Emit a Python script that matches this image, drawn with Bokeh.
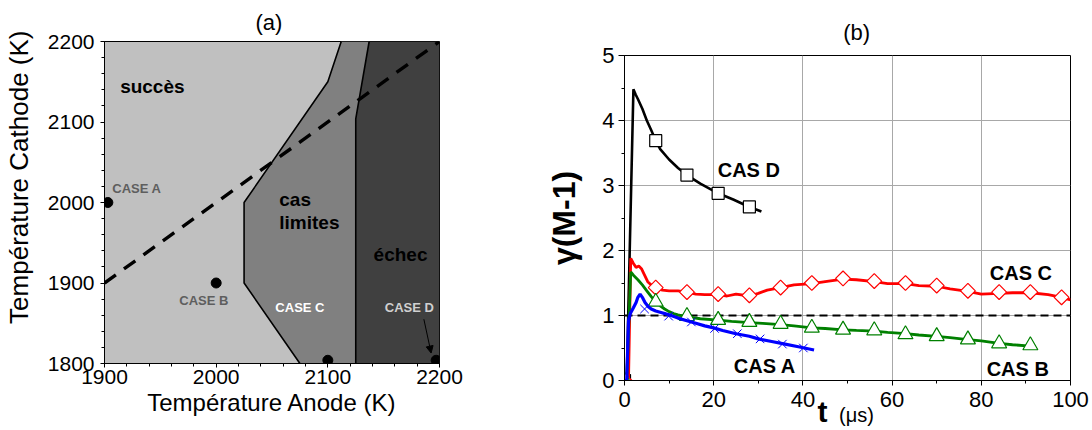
from bokeh.plotting import figure
from bokeh.layouts import row, column
from bokeh.models import Range1d, FixedTicker, Label, Arrow, NormalHead, LinearAxis, Spacer
from bokeh.embed import file_html
from bokeh.resources import INLINE

FONT = "Liberation Sans"
NB = "\u00a0"

# ---------------- panel (a) data ----------------
anode_ticks = [1900, 2000, 2100, 2200]
anode_minor = list(range(1900, 2201, 20))
cathode_ticks = [1800, 1900, 2000, 2100, 2200]
cathode_minor = list(range(1800, 2201, 20))

limite_anode = [2075, 2025, 2025, 2100, 2112, 2137, 2125, 2125]
limite_cathode = [1800, 1900, 2000, 2150, 2200, 2200, 2104, 1800]
echec_anode = [2125, 2125, 2137, 2200, 2200]
echec_cathode = [1800, 2104, 2200, 2200, 1800]
diag_anode = [1900, 2200]
diag_cathode = [1900, 2200]
case_anode = [1903, 2000, 2100, 2197]
case_cathode = [2000, 1900, 1804, 1804]
case_names = ["CASE A", "CASE B", "CASE C", "CASE D"]
region_names = ["succès", "cas", "limites", "échec"]

# ---------------- panel (b) data ----------------
t_ticks = [0, 20, 40, 60, 80, 100]
t_minor = list(range(0, 101, 10))
g_ticks = [0, 1, 2, 3, 4, 5]
g_minor = [0, 0.5, 1, 1.5, 2, 2.5, 3, 3.5, 4, 4.5, 5]

t_D = [0.5, 2.0, 2.5, 3.0, 4.0, 5.0, 6.0, 7.0, 8.0, 10.0, 12.0, 14.0, 17.0, 21.0, 24.5, 28.0, 30.7]
g_D = [0.0, 4.48, 4.40, 4.33, 4.18, 4.00, 3.85, 3.69, 3.56, 3.40, 3.27, 3.16, 3.03, 2.88, 2.78, 2.67, 2.60]
mark_t_D = [0, 7, 14, 21, 28]
mark_g_D = [0, 3.69, 3.16, 2.88, 2.67]

t_C = [0.9, 1.4, 2.0, 2.6, 3.2, 3.8, 4.5, 5.2, 6.0, 7.0, 8.5, 10, 12, 14, 16, 18, 21, 23, 25, 28, 30, 32,
       35, 38, 42, 45, 49, 52, 56, 59, 63, 66, 70, 73, 77, 80, 84, 87, 91, 95, 98, 100]
g_C = [0.0, 1.88, 1.80, 1.74, 1.76, 1.72, 1.62, 1.52, 1.47, 1.43, 1.39, 1.38, 1.38, 1.36, 1.33, 1.32, 1.32, 1.30,
       1.33, 1.30, 1.34, 1.39, 1.43, 1.47, 1.49, 1.52, 1.56, 1.55, 1.52, 1.49, 1.49, 1.46, 1.45, 1.41, 1.37, 1.33,
       1.34, 1.35, 1.35, 1.32, 1.28, 1.24]
mark_t_C = [0, 7, 14, 21, 28, 35, 42, 49, 56, 63, 70, 77, 84, 91, 98]
mark_g_C = [0, 1.43, 1.36, 1.33, 1.31, 1.43, 1.50, 1.57, 1.53, 1.50, 1.46, 1.38, 1.36, 1.36, 1.28]

t_B = [0.5, 1.4, 2.0, 3.0, 4.0, 5.0, 6.0, 7.0, 8.0, 9.0, 10, 11, 12, 14, 17, 21, 24, 28, 31, 35, 38, 42, 45,
       49, 52, 56, 59, 63, 66, 70, 73, 77, 80, 84, 87, 91, 92]
g_B = [0.0, 1.67, 1.62, 1.55, 1.47, 1.38, 1.29, 1.21, 1.15, 1.10, 1.06, 1.03, 1.01, 0.98, 0.95, 0.93, 0.91,
       0.89, 0.88, 0.86, 0.84, 0.81, 0.80, 0.78, 0.77, 0.76, 0.74, 0.72, 0.70, 0.68, 0.66, 0.63, 0.61, 0.57,
       0.55, 0.53, 0.52]
mark_t_B = [0, 7, 14, 21, 28, 35, 42, 49, 56, 63, 70, 77, 84, 91]
mark_g_B = [0, 1.21, 0.99, 0.93, 0.90, 0.87, 0.81, 0.78, 0.77, 0.71, 0.68, 0.63, 0.57, 0.54]

t_A = [0.5, 0.9, 1.3, 2.0, 2.6, 3.0, 3.5, 4.0, 4.6, 5.3, 6.0, 7.0, 8.0, 10, 12, 14, 16, 18, 20, 22, 25, 28,
       30, 33, 36, 39, 42.5]
g_A = [0.0, 0.92, 1.03, 1.12, 1.20, 1.28, 1.33, 1.28, 1.20, 1.14, 1.10, 1.07, 1.05, 1.01, 0.96, 0.92, 0.88,
       0.84, 0.81, 0.77, 0.72, 0.68, 0.64, 0.60, 0.56, 0.52, 0.47]
mark_t_A = [0, 4.5, 9.9, 15.0, 20.2, 25.3, 30.4, 35.4, 40.1]
mark_g_A = [0, 1.10, 0.99, 0.90, 0.80, 0.72, 0.64, 0.56, 0.50]

seuil_t = [0, 100]
seuil_g = [1, 1]
cas_names = ["CAS A", "CAS B", "CAS C", "CAS D"]


def style_axis(ax, ticks, minor, size, tick_out, minor_out, standoff):
    ax.ticker = FixedTicker(ticks=ticks, minor_ticks=minor)
    ax.axis_line_color = "black"
    ax.axis_line_width = 1
    ax.major_tick_line_color = "black"
    ax.minor_tick_line_color = "black"
    ax.major_tick_in = 0
    ax.major_tick_out = tick_out
    ax.minor_tick_in = 0
    ax.minor_tick_out = minor_out
    ax.major_label_text_font = FONT
    ax.major_label_text_font_size = size
    ax.major_label_text_color = "black"
    ax.major_label_standoff = standoff


def axis_title(ax, text, size, standoff, bold=False):
    ax.axis_label = text
    ax.axis_label_text_font = FONT
    ax.axis_label_text_font_size = size
    ax.axis_label_text_font_style = "bold" if bold else "normal"
    ax.axis_label_text_color = "black"
    ax.axis_label_standoff = standoff


def panel_title(p, text, standoff):
    p.title.text = text
    p.title.align = "center"
    p.title.text_font = FONT
    p.title.text_font_size = "22px"
    p.title.text_font_style = "normal"
    p.title.text_color = "black"
    p.title.standoff = standoff


def lab(p, x, y, text, size, color="black", bold=False):
    p.add_layout(Label(x=x, y=y, text=text, text_font=FONT, text_font_size=size,
                       text_color=color, text_font_style="bold" if bold else "normal",
                       text_align="left", text_baseline="alphabetic"))


# ======================= panel (a) =======================
pa = figure(width=469, height=430, frame_width=335, frame_height=322,
            min_border_left=104, min_border_right=30, min_border_top=41, min_border_bottom=67,
            x_range=Range1d(1900, 2200), y_range=Range1d(1800, 2200),
            output_backend="svg", toolbar_location=None)
pa.grid.visible = False
pa.background_fill_color = "#c0c0c0"
pa.border_fill_color = "white"
pa.outline_line_color = "black"
style_axis(pa.xaxis[0], anode_ticks, anode_minor, "21px", 4, 3, 2)
style_axis(pa.yaxis[0], cathode_ticks, cathode_minor, "21px", 4, 3, 6)
axis_title(pa.xaxis[0], "Température Anode (K)", "24px", 2)
axis_title(pa.yaxis[0], NB * 7 + "Température Cathode (K)", "26px", 11)
panel_title(pa, "(a)" + NB, 14)

pa.patch(limite_anode, limite_cathode, fill_color="#808080", line_color=None)
pa.patch(echec_anode, echec_cathode, fill_color="#404040", line_color=None)
pa.line(limite_anode[:5], limite_cathode[:5], line_color="black", line_width=1.6)
pa.line(echec_anode[:3], echec_cathode[:3], line_color="black", line_width=1.6)
pa.line(diag_anode, diag_cathode, line_color="black", line_width=3.4, line_dash="14 10")
pa.scatter(case_anode, case_cathode, size=10, marker="circle", fill_color="black", line_color="black")

lab(pa, 1914, 2144, region_names[0], "19px", bold=True)
lab(pa, 2056.5, 2004, region_names[1], "19px", bold=True)
lab(pa, 2056.5, 1975, region_names[2], "19px", bold=True)
lab(pa, 2141, 1935, region_names[3], "19px", bold=True)
lab(pa, 1907, 2018, case_names[0], "13px", color="#5e5e5e", bold=True)
lab(pa, 1967, 1878, case_names[1], "13px", color="#5e5e5e", bold=True)
lab(pa, 2053, 1869, case_names[2], "13px", color="white", bold=True)
lab(pa, 2151, 1869, case_names[3], "13px", color="#d0d0d0", bold=True)
pa.add_layout(Arrow(x_start=2186, y_start=1855, x_end=2192.5, y_end=1813,
                    line_color="black", line_width=1,
                    end=NormalHead(size=7, fill_color="black", line_color="black")))

# ======================= panel (b) =======================
pb = figure(width=623, height=425, frame_width=446, frame_height=325,
            min_border_left=155, min_border_right=22, min_border_top=50, min_border_bottom=50,
            x_range=Range1d(0, 100), y_range=Range1d(0, 5),
            output_backend="svg", toolbar_location=None)
pb.background_fill_color = "white"
pb.border_fill_color = "white"
pb.outline_line_color = "black"
style_axis(pb.xaxis[0], t_ticks, t_minor, "22px", 5, 3, 6)
style_axis(pb.yaxis[0], g_ticks, g_minor, "22px", 6, 3, 4)
pb.xgrid.grid_line_color = "#a8a8a8"
pb.ygrid.grid_line_color = "#a8a8a8"
axis_title(pb.xaxis[0], "t" + NB * 6, "30px", -15, bold=True)
axis_title(pb.yaxis[0], "γ(M-1)", "32px", 17, bold=True)
panel_title(pb, NB * 3 + "(b)", 21)

unit_axis = LinearAxis(ticker=FixedTicker(ticks=[52]), major_label_overrides={52: "(μs)"})
unit_axis.axis_line_color = None
unit_axis.major_tick_line_color = None
unit_axis.minor_tick_line_color = None
unit_axis.major_tick_out = 0
unit_axis.minor_tick_out = 0
unit_axis.major_label_standoff = -27
unit_axis.major_label_text_font = FONT
unit_axis.major_label_text_font_size = "20px"
unit_axis.major_label_text_color = "black"
pb.add_layout(unit_axis, "below")

pb.line(seuil_t, seuil_g, line_color="black", line_width=2, line_dash="8 5")

pb.line(t_D, g_D, line_color="black", line_width=2.6)
pb.scatter(mark_t_D, mark_g_D, marker="square", size=12, fill_color="white", line_color="black", line_width=1.2)

pb.line(t_C, g_C, line_color="#ff0000", line_width=2.8)
pb.scatter(mark_t_C, mark_g_C, marker="square", angle=0.7854, size=10.5, fill_color="white",
           line_color="#ff0000", line_width=1.2)

pb.line(t_B, g_B, line_color="#008000", line_width=2.8)
pb.scatter(mark_t_B, mark_g_B, marker="triangle", size=15, fill_color="white", line_color="#008000", line_width=1.2)

pb.line(t_A, g_A, line_color="#0000ff", line_width=3.2)
pb.scatter(mark_t_A, mark_g_A, marker="x", size=12, line_color="#0000ff", line_width=1)

lab(pb, 24.5, 0.23, cas_names[0], "20px", bold=True)
lab(pb, 81.2, 0.18, cas_names[1], "20px", bold=True)
lab(pb, 81.9, 1.65, cas_names[2], "20px", bold=True)
lab(pb, 20.9, 3.24, cas_names[3], "20px", bold=True)

layout = row(pa, column(Spacer(width=623, height=5), pb))
open("out.html", "w").write(file_html(layout, INLINE))
